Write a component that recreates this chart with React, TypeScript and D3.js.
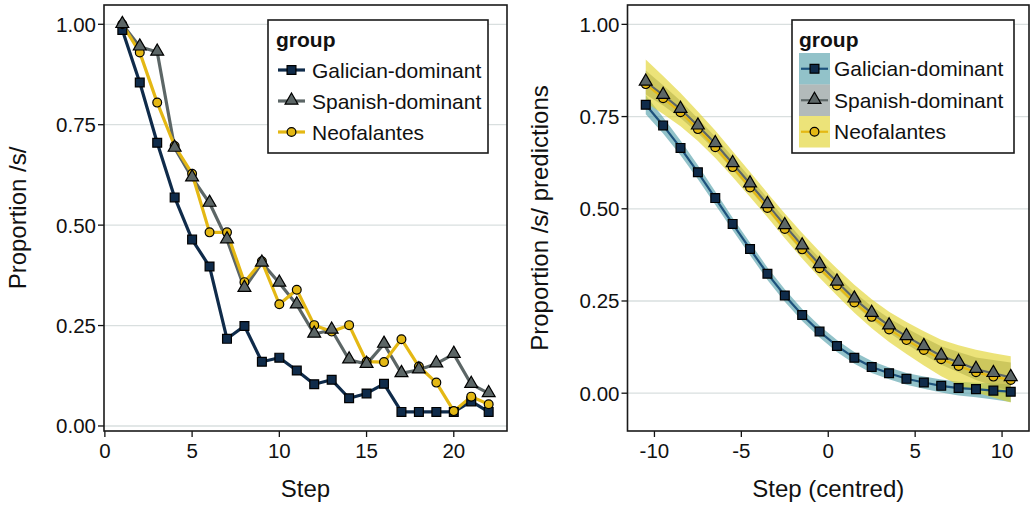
import * as d3 from 'd3';

// Left panel: observed proportions per step
const steps = [1, 2, 3, 4, 5, 6, 7, 8, 9, 10, 11, 12, 13, 14, 15, 16, 17, 18, 19, 20, 21, 22];
const galObs = [0.986, 0.855, 0.705, 0.569, 0.464, 0.397, 0.217, 0.249, 0.160, 0.170, 0.138, 0.104, 0.115, 0.069, 0.081, 0.105, 0.035, 0.035, 0.035, 0.035, 0.061, 0.035];
const spaObs = [1.0, 0.944, 0.931, 0.692, 0.618, 0.555, 0.464, 0.343, 0.406, 0.356, 0.302, 0.229, 0.239, 0.165, 0.154, 0.204, 0.131, 0.140, 0.155, 0.179, 0.104, 0.081];
const neoObs = [1.0, 0.930, 0.805, 0.697, 0.628, 0.482, 0.482, 0.358, 0.410, 0.303, 0.339, 0.251, 0.235, 0.251, 0.160, 0.159, 0.216, 0.148, 0.108, 0.037, 0.073, 0.054];

// Right panel: model predictions per centred step
const centred = [-10.5, -9.5, -8.5, -7.5, -6.5, -5.5, -4.5, -3.5, -2.5, -1.5, -0.5, 0.5, 1.5, 2.5, 3.5, 4.5, 5.5, 6.5, 7.5, 8.5, 9.5, 10.5];
const galPred = [0.782, 0.726, 0.665, 0.599, 0.529, 0.459, 0.391, 0.324, 0.265, 0.212, 0.167, 0.128, 0.096, 0.071, 0.054, 0.039, 0.029, 0.020, 0.014, 0.011, 0.007, 0.004];
const galLo = [0.756, 0.704, 0.645, 0.580, 0.511, 0.442, 0.374, 0.307, 0.248, 0.196, 0.151, 0.112, 0.080, 0.055, 0.038, 0.023, 0.012, 0.002, -0.006, -0.011, -0.017, -0.024];
const galHi = [0.808, 0.748, 0.685, 0.618, 0.547, 0.476, 0.408, 0.341, 0.282, 0.228, 0.183, 0.144, 0.112, 0.087, 0.070, 0.055, 0.045, 0.037, 0.031, 0.028, 0.026, 0.024];
const spaPred = [0.844, 0.808, 0.770, 0.725, 0.677, 0.623, 0.568, 0.512, 0.455, 0.400, 0.349, 0.302, 0.256, 0.217, 0.183, 0.154, 0.127, 0.101, 0.084, 0.065, 0.054, 0.043];
const spaLo = [0.810, 0.780, 0.746, 0.705, 0.659, 0.606, 0.551, 0.495, 0.438, 0.383, 0.332, 0.285, 0.239, 0.199, 0.164, 0.133, 0.104, 0.077, 0.057, 0.036, 0.020, 0.005];
const spaHi = [0.875, 0.835, 0.793, 0.745, 0.695, 0.640, 0.585, 0.529, 0.472, 0.417, 0.366, 0.320, 0.274, 0.236, 0.203, 0.176, 0.151, 0.127, 0.112, 0.097, 0.090, 0.083];
const neoPred = [0.838, 0.800, 0.762, 0.716, 0.667, 0.613, 0.558, 0.502, 0.445, 0.390, 0.339, 0.292, 0.246, 0.207, 0.173, 0.144, 0.117, 0.092, 0.074, 0.057, 0.045, 0.036];
const neoLo = [0.788, 0.757, 0.724, 0.684, 0.638, 0.586, 0.532, 0.477, 0.420, 0.365, 0.313, 0.265, 0.218, 0.176, 0.139, 0.106, 0.075, 0.046, 0.022, 0.002, -0.012, -0.025];
const neoHi = [0.905, 0.860, 0.814, 0.764, 0.712, 0.656, 0.600, 0.543, 0.487, 0.434, 0.384, 0.338, 0.294, 0.255, 0.221, 0.193, 0.168, 0.145, 0.130, 0.118, 0.108, 0.100];

const groups = ['Galician-dominant', 'Spanish-dominant', 'Neofalantes'];
const leftXTicks = [0, 5, 10, 15, 20];
const rightXTicks = [-10, -5, 0, 5, 10];
const yTicks = [0, 0.25, 0.5, 0.75, 1];

const FONT = '"Liberation Sans", Arial, sans-serif';
const NAVY = '#0f2b4a';
const BLUE = '#1d527c';
const GREY = '#5c6666';
const GOLD = '#e4b814';
const GRID = '#d9dfdf';
const TEAL_FILL = '#4a9aa5';
const GREY_FILL = '#728282';
const YEL_FILL = '#e0d020';

const squarePath = d3.symbol(d3.symbolSquare, 78)()!;
const trianglePath = d3.symbol(d3.symbolTriangle, 72)()!;

function Marker({ kind, x, y }: { kind: string; x: number; y: number }) {
  if (kind === 'square') {
    return <path d={squarePath} transform={`translate(${x},${y})`} fill={NAVY} stroke="#000" strokeWidth={1.2} />;
  }
  if (kind === 'triangle') {
    return <path d={trianglePath} transform={`translate(${x},${y - 0.5})`} fill={GREY} stroke="#000" strokeWidth={1.2} />;
  }
  return <circle cx={x} cy={y} r={4.4} fill={GOLD} stroke="#000" strokeWidth={1.2} />;
}

function Axes({ x, y, xTicks, xTitle, yTitle, yTitleX, tickFmt }: any) {
  const [x0, x1] = x.range();
  const [y0, y1] = y.range();
  return (
    <g fontFamily={FONT} fill="#111">
      {yTicks.map((t) => (
        <line key={'g' + t} x1={x0} x2={x1} y1={y(t)} y2={y(t)} stroke={GRID} strokeWidth={1.3} />
      ))}
      {yTicks.map((t) => (
        <g key={'y' + t}>
          <line x1={x0 - 6} x2={x0} y1={y(t)} y2={y(t)} stroke="#111" strokeWidth={1.3} />
          <text x={x0 - 8} y={y(t) + 7.5} textAnchor="end" fontSize={20.5}>{d3.format('.2f')(t)}</text>
        </g>
      ))}
      {xTicks.map((t: number) => (
        <g key={'x' + t}>
          <line x1={x(t)} x2={x(t)} y1={y0} y2={y0 + 6} stroke="#111" strokeWidth={1.3} />
          <text x={x(t)} y={458} textAnchor="middle" fontSize={20.5}>{tickFmt(t)}</text>
        </g>
      ))}
      <text x={(x0 + x1) / 2} y={497} textAnchor="middle" fontSize={24}>{xTitle}</text>
      <text transform={`translate(${yTitleX},${(y0 + y1) / 2}) rotate(-90)`} textAnchor="middle" fontSize={24}>{yTitle}</text>
    </g>
  );
}

function LeftPanel() {
  const x = d3.scaleLinear().domain([-0.05, 23.05]).range([104, 507]);
  const y = d3.scaleLinear().domain([-0.0125, 1.048]).range([431, 5]);
  const line = d3.line<number>().x((_, i) => x(steps[i])).y((v) => y(v));
  const lx = 268;
  const ly = 20;
  const rows = [
    { kind: 'square', color: NAVY },
    { kind: 'triangle', color: GREY },
    { kind: 'circle', color: GOLD },
  ];
  return (
    <g>
      <Axes x={x} y={y} xTicks={leftXTicks} xTitle="Step" yTitle="Proportion /s/" yTitleX={26} tickFmt={(t: number) => `${t}`} />
      <path d={line(galObs)!} fill="none" stroke={NAVY} strokeWidth={3.2} strokeLinejoin="round" />
      <path d={line(spaObs)!} fill="none" stroke={GREY} strokeWidth={3.2} strokeLinejoin="round" />
      <path d={line(neoObs)!} fill="none" stroke={GOLD} strokeWidth={3.2} strokeLinejoin="round" />
      {galObs.map((v, i) => <Marker key={'a' + i} kind="square" x={x(steps[i])} y={y(v)} />)}
      {neoObs.map((v, i) => <Marker key={'c' + i} kind="circle" x={x(steps[i])} y={y(v)} />)}
      {spaObs.map((v, i) => <Marker key={'b' + i} kind="triangle" x={x(steps[i])} y={y(v)} />)}
      <rect x={104} y={5} width={403} height={426} fill="none" stroke="#1a1a1a" strokeWidth={1.6} />
      <g fontFamily={FONT}>
        <rect x={lx} y={ly} width={220} height={133} fill="#fff" stroke="#1a1a1a" strokeWidth={1.6} />
        <text x={lx + 8} y={ly + 27} fontSize={21} fontWeight="bold" fill="#111">group</text>
        {groups.map((g, i) => {
          const cy = ly + 50 + i * 31;
          return (
            <g key={g}>
              <line x1={lx + 10} x2={lx + 37} y1={cy} y2={cy} stroke={rows[i].color} strokeWidth={3.2} />
              <Marker kind={rows[i].kind} x={lx + 23.5} y={cy} />
              <text x={lx + 44} y={cy + 7.5} fontSize={21} fill="#111">{g}</text>
            </g>
          );
        })}
      </g>
    </g>
  );
}

function RightPanel() {
  const x = d3.scaleLinear().domain([-11.55, 11.55]).range([627.5, 1029]);
  const y = d3.scaleLinear().domain([-0.1025, 1.0525]).range([431, 5]);
  const line = d3.line<number>().x((_, i) => x(centred[i])).y((v) => y(v));
  const band = (lo: number[], hi: number[]) =>
    d3.area<number>().x((_, i) => x(centred[i])).y0((_, i) => y(lo[i])).y1((_, i) => y(hi[i]))(lo)!;
  const lx = 792;
  const ly = 20;
  const rows = [
    { kind: 'square', color: BLUE, fill: TEAL_FILL },
    { kind: 'triangle', color: GREY, fill: GREY_FILL },
    { kind: 'circle', color: GOLD, fill: YEL_FILL },
  ];
  return (
    <g>
      <Axes x={x} y={y} xTicks={rightXTicks} xTitle="Step (centred)" yTitle="Proportion /s/ predictions" yTitleX={548} tickFmt={(t: number) => `${t}`} />
      <path d={band(galLo, galHi)} fill={TEAL_FILL} fillOpacity={0.6} />
      <path d={band(spaLo, spaHi)} fill={GREY_FILL} fillOpacity={0.55} />
      <path d={band(neoLo, neoHi)} fill={YEL_FILL} fillOpacity={0.6} />
      <path d={line(galPred)!} fill="none" stroke={BLUE} strokeWidth={2.2} />
      <path d={line(spaPred)!} fill="none" stroke={GREY} strokeWidth={2.2} />
      <path d={line(neoPred)!} fill="none" stroke={GOLD} strokeWidth={2.2} />
      {galPred.map((v, i) => <Marker key={'a' + i} kind="square" x={x(centred[i])} y={y(v)} />)}
      {neoPred.map((v, i) => <Marker key={'c' + i} kind="circle" x={x(centred[i])} y={y(v)} />)}
      {spaPred.map((v, i) => <Marker key={'b' + i} kind="triangle" x={x(centred[i])} y={y(v)} />)}
      <rect x={627.5} y={5} width={401.5} height={426} fill="none" stroke="#1a1a1a" strokeWidth={1.6} />
      <g fontFamily={FONT}>
        <rect x={lx} y={ly} width={222} height={133} fill="#fff" stroke="#1a1a1a" strokeWidth={1.6} />
        <text x={lx + 7} y={ly + 27} fontSize={21} fontWeight="bold" fill="#111">group</text>
        {groups.map((g, i) => {
          const top = ly + 33 + i * 31.5;
          const cy = top + 15.75;
          return (
            <g key={g}>
              <rect x={lx + 7} y={top} width={31} height={31.5} fill={rows[i].fill} fillOpacity={rows[i].fill === GREY_FILL ? 0.55 : 0.6} />
              <line x1={lx + 9} x2={lx + 36} y1={cy} y2={cy} stroke={rows[i].color} strokeWidth={2.2} />
              <Marker kind={rows[i].kind} x={lx + 22.5} y={cy} />
              <text x={lx + 42} y={cy + 7.5} fontSize={21} fill="#111">{g}</text>
            </g>
          );
        })}
      </g>
    </g>
  );
}

export default function App() {
  return (
    <svg width={1033} height={508} style={{ position: 'absolute', left: 0, top: 0, background: '#fff' }}>
      <LeftPanel />
      <RightPanel />
    </svg>
  );
}
